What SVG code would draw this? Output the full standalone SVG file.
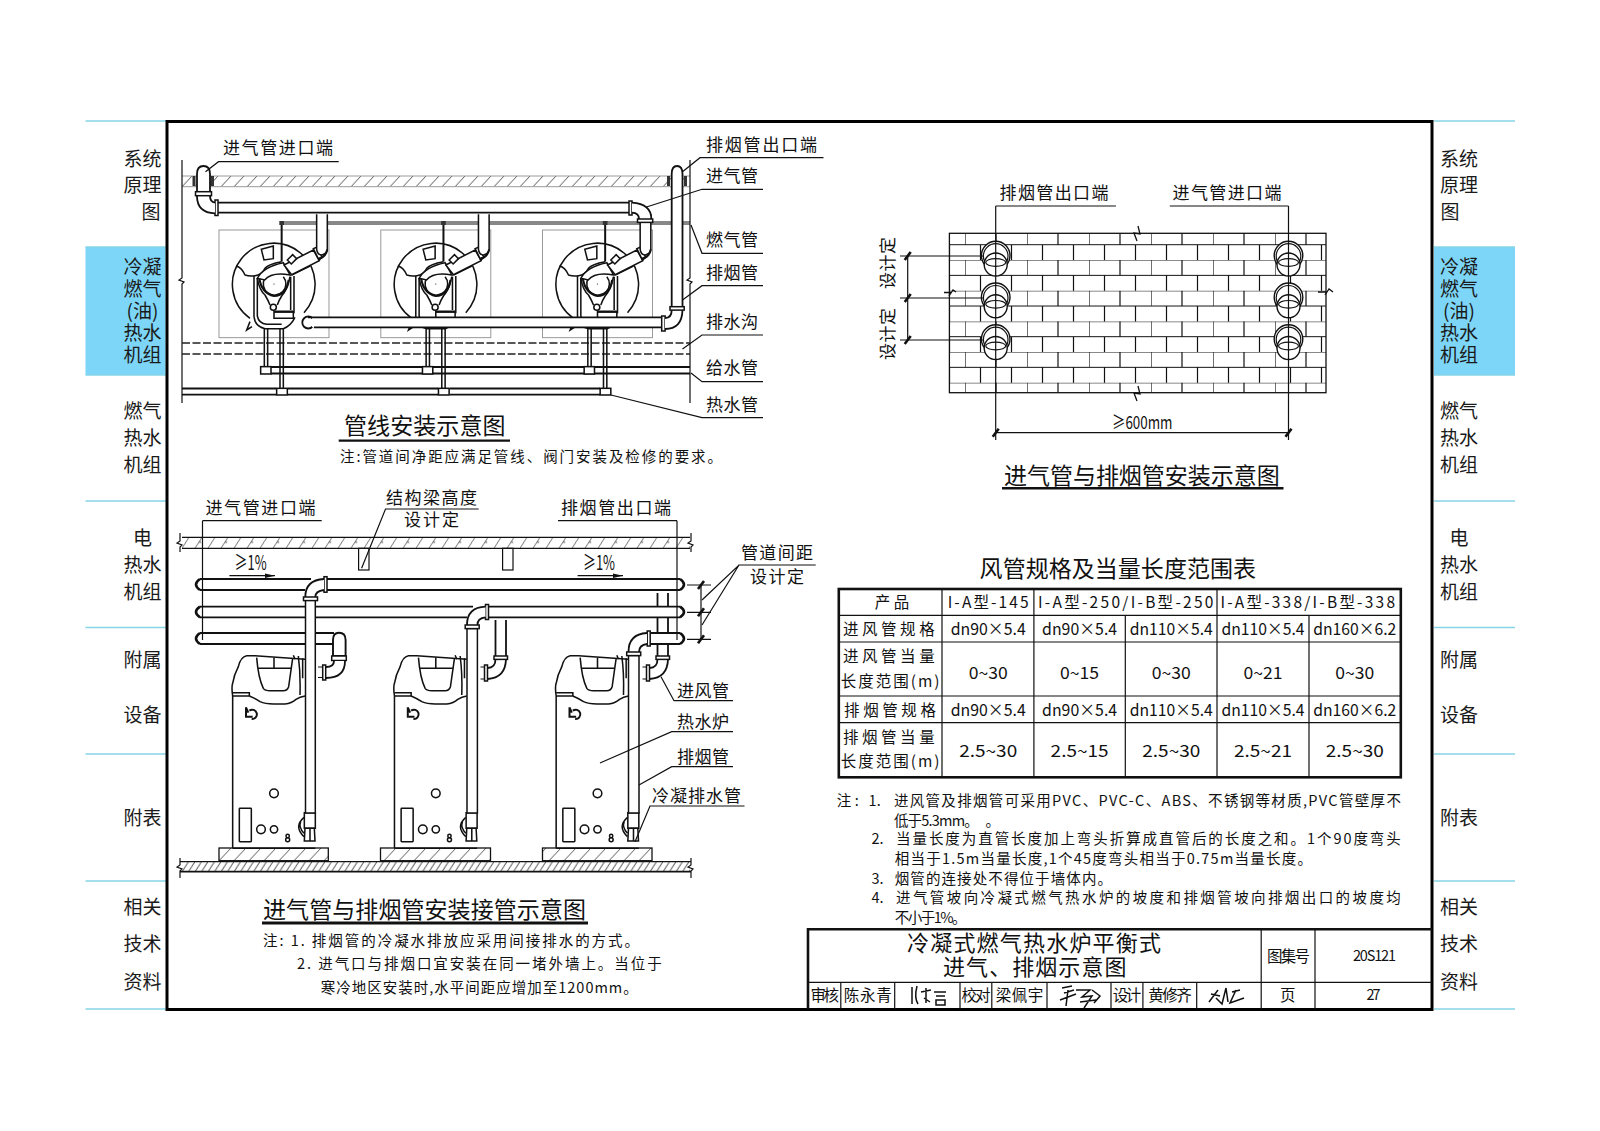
<svg xmlns="http://www.w3.org/2000/svg" width="1600" height="1131" viewBox="0 0 1600 1131">
<style>
text{font-family:"Noto Sans CJK SC","Liberation Sans",sans-serif;fill:#111;dominant-baseline:middle;baseline-shift:-1.5px}
.s{font-size:19px;fill:#1a1a1a;text-anchor:middle}
.a{font-size:17px}
.m{text-anchor:middle}
.ti{font-size:23px}
.n{font-size:14.5px}
.c{font-size:15.5px;text-anchor:middle}
.v{font-size:16.5px;text-anchor:middle}
.l{fill:none;stroke:#111;stroke-width:1.2}
.b{fill:none;stroke:#111;stroke-width:1.8}
.p{fill:#fff;stroke:#111;stroke-width:1.5}
.cy{stroke:#86d5e8;stroke-width:1.6}
.d{fill:none;stroke:#222;stroke-width:1.7;stroke-dasharray:8 2.5}
.gr{fill:none;stroke:#9a9a9a;stroke-width:1}
.z{fill:none;stroke:#111;stroke-width:4.6}
.zw{fill:#fff;stroke:#111;stroke-width:4.6}
.sg{fill:none;stroke:#111;stroke-width:1.5}
</style>
<defs>
<pattern id="hTop" patternUnits="userSpaceOnUse" x="0" y="176" width="13" height="10.7"><path d="M0,10.7L10,0" stroke="#444" stroke-width=".9"/></pattern>
<pattern id="hSlab" patternUnits="userSpaceOnUse" x="0" y="537.3" width="26" height="11"><path d="M0,11L7,0M13,11L20,0" stroke="#333" stroke-width=".7"/><path d="M17,5l1.5,-1l.5,1.5z" fill="none" stroke="#555" stroke-width=".5"/></pattern>
<pattern id="hFloor" patternUnits="userSpaceOnUse" x="0" y="861.7" width="6.5" height="10"><path d="M0,10L6.5,0" stroke="#222" stroke-width=".9"/></pattern>
<pattern id="hBase" patternUnits="userSpaceOnUse" x="219" y="848" width="15" height="12.7"><path d="M0,12.7L12,0" stroke="#333" stroke-width=".8"/></pattern>
<pattern id="brick" patternUnits="userSpaceOnUse" x="965" y="229.37" width="62" height="30.66"><path d="M0,0H62M0,15.33H62M0,0V15.33M31,0V15.33M15.5,15.33V30.66M46.5,15.33V30.66" fill="none" stroke="#111" stroke-width="1.2"/></pattern>
<g id="planUnit">
<rect x="57" y="60" width="330" height="323" fill="none" stroke="#999" stroke-width="3"/>
<path class="z" d="M150,325A124,124 0 1 1 312,308"/>
<path class="z" d="M108,168Q125,172 135,195Q150,200 165,197Q185,195 195,175Q205,162 245,155M275,195L330,168"/>
<path class="z" d="M162,198V320Q165,350 195,356H250Q272,348 285,322M282,198V310"/>
<path class="z" d="M172,205V318Q176,340 200,343H245M272,200V300"/>
<path class="z" d="M172,205Q178,240 195,255Q205,272 210,285M270,200Q262,240 245,258Q236,272 232,285"/>
<path class="z" d="M178,205Q185,250 222,258Q260,255 266,210" style="stroke-width:6.5"/>
<path class="z" d="M194,205A34,34 0 1 0 250,200"/>
<path class="zw" d="M172,205Q190,170 250,158L270,195Q215,185 194,210Z"/>
<circle cx="222" cy="222" r="1.8" fill="#111"/>
<circle cx="220" cy="292" r="9" class="z"/>
<path class="zw" d="M222,305H280V325H222Z"/>
<path d="M222,305H280" stroke="#111" stroke-width="7" fill="none"/>
<path class="zw" d="M184,118L220,108L220,146L192,150Z"/>
<path class="z" d="M245,45V155" style="stroke-width:6"/>
<rect x="238" y="33" width="14" height="12" fill="#333"/>
<path class="z" d="M150,335L140,360L156,350"/>
<path class="zw" d="M252,165L340,120L358,152L275,194Z"/>
<path class="zw" d="M340,116L350,112L367,142L357,150Z"/>
<path class="zw" d="M262,150L278,134L290,146L274,162Z"/>
<path class="zw" d="M350,13V118Q352,135 366,135Q382,130 382,118V13"/>
<path d="M382,118Q378,142 355,146" fill="none" stroke="#111" stroke-width="6"/>
<path class="z" d="M193,355V470M203,355V470M240,355V535M250,355V535"/>
<rect x="182" y="470" width="31" height="22" class="zw"/>
<rect x="230" y="535" width="32" height="20" class="zw"/>
</g>
<g id="boilerUnit">
<path class="z" d="M68,228V685M68,228Q64,200 68,190Q72,165 85,140Q92,110 110,107H135L285,118M68,228H118Q135,235 150,245Q165,252 190,252H225Q245,250 258,238Q270,230 285,228"/>
<path class="z" d="M68,218H118V228M140,113Q145,175 160,205Q165,212 180,212H220Q232,212 236,200L248,115M143,145H245M192,113V145M250,106L255,118M265,108Q272,160 270,225M278,115V175"/>
<path class="z" d="M108,262V290H128M118,272A14,14 0 1 1 125,297M115,278L108,262" style="stroke-width:6"/>
<circle cx="192" cy="520" r="13" class="z"/><circle cx="153" cy="628" r="13" class="z"/><circle cx="192" cy="628" r="11" class="z"/>
<circle cx="233" cy="648" r="5" class="z"/><circle cx="233" cy="659" r="6" class="z"/>
<rect x="88" y="565" width="36" height="100" rx="2" class="z"/>
<path class="z" d="M282,592Q250,620 282,650M272,605Q265,622 282,640"/>
<path class="zw" d="M283,578H316V625H283Z"/>
<path class="zw" d="M285,625H313L315,663H283Z"/>
<path class="z" d="M300,625V663M68,685H316"/>
</g>
<g id="hole">
<circle cx="0" cy="-1" r="14.3" fill="#fff" stroke="#111" stroke-width="1.4"/>
<circle cx="0" cy="-.5" r="12.3" fill="#fff" stroke="#111" stroke-width="1.2"/>
<circle cx="0" cy="8" r="11.5" fill="#fff" stroke="#111" stroke-width="1.4"/>
<ellipse cx="0" cy="6" rx="10" ry="3.8" fill="#fff" stroke="#111" stroke-width="1.2"/>
</g>
<path id="tick" d="M-3,4L3,-4" stroke="#111" stroke-width="2.6" fill="none"/>
<g id="stub">
<path class="b" d="M0,0V36M10.5,0V36"/>
<path class="b" d="M10.5,39Q10,58 -8,59M0,39Q0,48 -8,48"/>
<rect x="-1.5" y="36" width="13.5" height="3.4" class="p"/>
<rect x="-11" y="45" width="3" height="16" class="p"/>
<path class="l" d="M-15,47H-11M-15,59H-11"/>
</g>
</defs>
<rect width="1600" height="1131" fill="#fff"/>

<g id="side-tabs">
<rect x="85.5" y="247" width="80" height="128" fill="#7dd6f7"/>
<rect x="1434" y="247" width="81" height="128" fill="#7dd6f7"/>
<g id="tab-lines">
<path class="cy" d="M85.5,121H166M85.5,247H166M85.5,375H166M85.5,501H166M85.5,627.5H166M85.5,754H166M85.5,881H166M85.5,1009H166"/>
<path class="cy" d="M1434,121H1515M1434,247H1515M1434,375H1515M1434,501H1515M1434,627.5H1515M1434,754H1515M1434,881H1515M1434,1009H1515"/>
</g>
<g id="tabs-left">
<text class="s" x="142.5" y="159">系统</text><text class="s" x="142.5" y="185">原理</text><text class="s" x="151" y="212">图</text>
<text class="s" x="142.5" y="267">冷凝</text><text class="s" x="142.5" y="289.5">燃气</text><text class="s" x="142.5" y="311">(油)</text><text class="s" x="142.5" y="333">热水</text><text class="s" x="142.5" y="355">机组</text>
<text class="s" x="142.5" y="411">燃气</text><text class="s" x="142.5" y="438">热水</text><text class="s" x="142.5" y="465">机组</text>
<text class="s" x="142.5" y="538">电</text><text class="s" x="142.5" y="565">热水</text><text class="s" x="142.5" y="592">机组</text>
<text class="s" x="142.5" y="660">附属</text><text class="s" x="142.5" y="715">设备</text><text class="s" x="142.5" y="818">附表</text>
<text class="s" x="142.5" y="907">相关</text><text class="s" x="142.5" y="944">技术</text><text class="s" x="142.5" y="982">资料</text>
</g>
<g id="tabs-right">
<text class="s" x="1459" y="159">系统</text><text class="s" x="1459" y="185">原理</text><text class="s" x="1450" y="212">图</text>
<text class="s" x="1459" y="267">冷凝</text><text class="s" x="1459" y="289.5">燃气</text><text class="s" x="1459" y="311">(油)</text><text class="s" x="1459" y="333">热水</text><text class="s" x="1459" y="355">机组</text>
<text class="s" x="1459" y="411">燃气</text><text class="s" x="1459" y="438">热水</text><text class="s" x="1459" y="465">机组</text>
<text class="s" x="1459" y="538">电</text><text class="s" x="1459" y="565">热水</text><text class="s" x="1459" y="592">机组</text>
<text class="s" x="1459" y="660">附属</text><text class="s" x="1459" y="715">设备</text><text class="s" x="1459" y="818">附表</text>
<text class="s" x="1459" y="907">相关</text><text class="s" x="1459" y="944">技术</text><text class="s" x="1459" y="982">资料</text>
</g>
</g>

<rect id="frame" x="167" y="121.5" width="1265" height="888" fill="none" stroke="#000" stroke-width="3"/>

<g id="plan-view">
<rect x="182" y="176" width="508" height="10.7" fill="url(#hTop)"/>
<path class="gr" d="M182,176H690M182,186.7H690" stroke-width="1.2"/>
<path class="l" d="M182,160V278l-3,2l5,2l-2,2V403M690,160V278l-3,2l5,2l-2,2V403"/>
<path class="d" d="M182,343H690M182,354H690"/>
<path d="M281,222H690M281,224H690" stroke="#111" stroke-width="1" fill="none"/>
<path class="b" d="M271,367H690M271,373.5H690"/>
<path class="b" d="M182,388.5H276M288,388.5H438M450,388.5H600M182,394.7H276M288,394.7H438M450,394.7H600"/>
<g transform="translate(200,210) scale(.3333)"><use href="#planUnit"/></g>
<g transform="translate(361.8,210) scale(.3333)"><use href="#planUnit"/></g>
<g transform="translate(523.5,210) scale(.3333)"><use href="#planUnit"/></g>
<circle cx="308.3" cy="322.5" r="6" class="p" style="stroke-width:1.8"/>
<path d="M312,317.3H663V327.3H312Z" fill="#fff"/>
<path class="b" d="M308,317.3H663M314,327.3H663"/>
<rect x="661.7" y="316" width="3.4" height="15" class="p"/>
<path d="M665,318Q671.7,318 671.7,310L682.5,310Q682,329 665,329Z" fill="#fff"/>
<path class="b" d="M665,318Q671.7,318 671.7,310M682.5,310Q682,329 665,329"/>
<path d="M671.7,172H682.5V307H671.7Z" fill="#fff"/>
<path class="b" d="M671.7,307V174Q671.7,166 677,166Q682.5,166 682.5,174V307"/>
<rect x="670" y="306.7" width="14.2" height="3.4" class="p"/>
<rect x="667" y="176" width="3" height="10" fill="#333"/><rect x="684" y="176" width="3" height="10" fill="#333"/>
<path d="M216.5,203H630.5V212.7H216.5Z" fill="#fff"/>
<path class="b" d="M216.5,202.7H630.5M216.5,212.7H630.5"/>
<rect x="215" y="200" width="3" height="15.5" class="p"/>
<path d="M197,196Q197,212.7 215,213.4V202.7Q210,202 210,196Z" fill="#fff"/>
<path class="b" d="M197,196Q197,212.7 215,213.4M210,196Q210,202 215,202.7"/>
<path d="M197,172H210V192H197Z" fill="#fff"/>
<path class="b" d="M197,192V174Q197,166 203.5,166Q210,166 210,174V192"/>
<rect x="195.5" y="191.7" width="16" height="4" class="p"/>
<rect x="192.5" y="176" width="3" height="10" fill="#333"/><rect x="211" y="176" width="3" height="10" fill="#333"/>
<rect x="629" y="201" width="3" height="14" class="p"/>
<path d="M632,202.7Q651.3,204 651.3,219H639Q639,213 632,212.7Z" fill="#fff"/>
<path class="b" d="M632,202.7Q651.3,204 651.3,219M632,212.7Q639,213 639,219"/>
<rect x="637.5" y="219" width="15.2" height="3.4" class="p"/>
</g>
<g id="plan-labels">
<text class="a" x="223" y="148" textLength="110">进气管进口端</text>
<path class="l" d="M338.7,161.7H218.5L205.5,171.7"/>
<text class="a" x="706" y="145" textLength="111">排烟管出口端</text>
<path class="l" d="M823.5,157.7H700L682.5,171.7"/>
<text class="a" x="706" y="176" textLength="52">进气管</text><path class="l" d="M763,189.3H702L645.7,207.3"/>
<text class="a" x="706" y="240" textLength="52">燃气管</text><path class="l" d="M763,253.3H702L691,225"/>
<text class="a" x="706" y="272.7" textLength="52">排烟管</text><path class="l" d="M763,285.7H702L682.5,300"/>
<text class="a" x="706" y="321.7" textLength="52">排水沟</text><path class="l" d="M763,335H702L682.5,349"/>
<text class="a" x="706" y="368" textLength="52">给水管</text><path class="l" d="M763,381.7H702L691,373"/>
<text class="a" x="706" y="405" textLength="52">热水管</text><path class="l" d="M763,417.7H702L611,395"/>
<text class="ti" x="344" y="426" textLength="161.5">管线安装示意图</text>
<path d="M338.7,440.7H510" stroke="#111" stroke-width="2.2"/>
<text class="n" x="340" y="457" textLength="382">注:管道间净距应满足管线、阀门安装及检修的要求。</text>
</g>

<g id="elevation-view">
<rect x="182" y="537.3" width="508" height="11" fill="url(#hSlab)"/>
<path class="l" d="M182,537.3H690M182,548.3H690"/>
<path class="l" d="M180,533V541l-3,2l5,2l-2,2V552M691,533V541l-3,2l5,2l-2,2V552"/>
<rect x="358.6" y="548.3" width="10.4" height="21.7" class="l"/>
<rect x="502.6" y="548.3" width="10.4" height="21.7" class="l"/>
<g transform="translate(210,620) scale(.3333)"><use href="#boilerUnit"/></g>
<g transform="translate(371.8,620) scale(.3333)"><use href="#boilerUnit"/></g>
<g transform="translate(533.5,620) scale(.3333)"><use href="#boilerUnit"/></g>
<g fill="url(#hBase)" stroke="#111" stroke-width="1.3">
<rect x="219" y="848" width="109.3" height="12.7"/><rect x="380.5" y="848" width="110" height="12.7"/><rect x="542.5" y="848" width="109.5" height="12.7"/>
</g>
<rect x="182" y="861.7" width="508" height="10" fill="url(#hFloor)"/>
<path class="l" d="M180,861.7H691"/><path d="M180,871.7H691" stroke="#111" stroke-width="1.8"/>
<path class="l" d="M180,858V865l-3,2l5,2l-2,2V878M691,858V865l-3,2l5,2l-2,2V878"/>
<use href="#stub" x="495.5" y="620"/>
<use href="#stub" x="657.5" y="620"/>
<path class="b" d="M657.5,593V620M668,593V620"/>
<g id="pipe-3">
<rect x="198" y="633" width="136" height="11" fill="#fff"/>
<path class="b" d="M200,633H305M315.5,633H334M200,644H305M315.5,644H333"/>
<path d="M200,633Q192,638.5 200,644" fill="none" stroke="#111" stroke-width="2.6"/>
<path class="p" d="M333,656V640Q333,632.7 339,632.7Q345.6,632.7 345.6,640V656Z" style="stroke-width:1.9"/>
<rect x="331.7" y="656" width="14.6" height="4.5" class="p"/>
<path d="M334,661Q334,667 327,667V678Q345,678 345,661Z" fill="#fff"/>
<path class="b" d="M334,661Q334,667 326,667M345,661Q345,678 326,678"/>
<rect x="322.7" y="665" width="3" height="15" class="p"/>
<path class="l" d="M318,667H322.7M318,677.5H322.7"/>
<rect x="649" y="633" width="32" height="11" fill="#fff"/>
<path class="b" d="M649,633H680M649,644H680"/>
<path d="M680,633Q688,638.5 680,644" fill="none" stroke="#111" stroke-width="2.6"/>
<rect x="647.2" y="631" width="3" height="15" class="p"/>
<path d="M647,633Q628.5,634 628.5,652H639Q639,645 647,644Z" fill="#fff"/>
<path class="b" d="M647,633Q628.5,634 628.5,652M647,644Q639,645 639,652"/>
</g>
<g id="pipe-2">
<rect x="198" y="606.7" width="270" height="10.6" fill="#fff"/>
<rect x="488" y="606.7" width="193" height="10.6" fill="#fff"/>
<path class="b" d="M200,606.7H305M315.5,606.7H473M200,617.3H305M315.5,617.3H467M488.5,606.7H680M488.5,617.3H680"/>
<path d="M200,606.7Q192,612 200,617.3M680,606.7Q688,612 680,617.3" fill="none" stroke="#111" stroke-width="2.6"/>
<rect x="485.5" y="604.5" width="3" height="15" class="p"/>
<path d="M485.5,606.7Q467,607.5 467,625H477.4Q477.4,618 485.5,617.3Z" fill="#fff"/>
<path class="b" d="M485.5,606.7Q467,607.5 467,625M485.5,617.3Q477.4,618 477.4,625"/>
</g>
<g id="pipe-1">
<rect x="198" y="579" width="110" height="11" fill="#fff"/>
<rect x="327" y="579" width="354" height="11" fill="#fff"/>
<path class="b" d="M200,579H311M200,590H305M327,579H680M327,590H680"/>
<path d="M200,579Q192,584.5 200,590M680,579Q688,584.5 680,590" fill="none" stroke="#111" stroke-width="2.6"/>
<rect x="324" y="576.7" width="3" height="15.5" class="p"/>
<path d="M324,579Q305.3,580 305.3,597H315.3Q315.3,591 324,590Z" fill="#fff"/>
<path class="b" d="M324,579Q305.3,580 305.3,597M324,590Q315.3,591 315.3,597"/>
</g>
<g id="risers">
<path class="p" d="M305.5,600H315.3V813H305.5Z"/><rect x="303.5" y="597" width="14" height="3.6" class="p"/>
<path class="p" d="M467,628.5H477.4V813H467Z"/><rect x="465.2" y="625" width="14" height="3.6" class="p"/>
<path class="p" d="M628.5,655.5H639V813H628.5Z"/><rect x="626.7" y="652" width="14" height="3.6" class="p"/>
</g>
<path class="l" d="M202.5,520.7V640M677,520.7V640"/>
</g>
<g id="elevation-labels">
<text class="a" x="205.5" y="508" textLength="110">进气管进口端</text><path class="l" d="M202.5,520.7H321.7"/>
<text class="a" x="561" y="508" textLength="110">排烟管出口端</text><path class="l" d="M558,520.7H677"/>
<text class="a" x="386" y="498" textLength="91">结构梁高度</text><path class="l" d="M478.7,509H385.5L361.6,568.3"/>
<text class="a" x="404" y="520" textLength="55">设计定</text>
<text x="234.6" y="563.5" font-size="20" textLength="32" lengthAdjust="spacingAndGlyphs">≥1%</text>
<text x="583" y="563.5" font-size="20" textLength="32" lengthAdjust="spacingAndGlyphs">≥1%</text>
<path class="l" d="M229.4,575.7H275"/><path d="M275,575.7l-10,-2.2v4.4z" fill="#111"/>
<path class="l" d="M577.6,575.7H623"/><path d="M623,575.7l-10,-2.2v4.4z" fill="#111"/>
<text class="a" x="741" y="552.7" textLength="72">管道间距</text><path class="l" d="M815.7,565H739L702,600M739,565L702,625"/>
<text class="a" x="750" y="576.7" textLength="54">设计定</text>
<path class="l" d="M701,585V640M687,585H711M687,612.3H711M687,639.3H711"/>
<use href="#tick" x="701" y="585"/><use href="#tick" x="701" y="612.3"/><use href="#tick" x="701" y="639.3"/>
<text class="a" x="677" y="690.7" textLength="52">进风管</text><path class="l" d="M733,700.7H674L661,676.7"/>
<text class="a" x="677" y="721.7" textLength="52">热水炉</text><path class="l" d="M733,731.7H671.7L600,763"/>
<text class="a" x="677" y="756.7" textLength="52">排烟管</text><path class="l" d="M733,766.7H671.7L639,785"/>
<text class="a" x="652" y="796" textLength="89">冷凝排水管</text><path class="l" d="M744.5,806H650L635,841.7"/>
<text class="ti" x="263" y="910" textLength="323">进气管与排烟管安装接管示意图</text>
<path d="M262,923H588" stroke="#111" stroke-width="3"/>
<text class="n" x="263" y="940.7" textLength="376">注: 1. 排烟管的冷凝水排放应采用间接排水的方式。</text>
<text class="n" x="297" y="964" textLength="364.7">2. 进气口与排烟口宜安装在同一堵外墙上。当位于</text>
<text class="n" x="320.8" y="988" textLength="317">寒冷地区安装时,水平间距应增加至1200mm。</text>
</g>

<g id="wall-view">
<rect x="949.4" y="233.3" width="376.6" height="159.4" fill="url(#brick)" stroke="#111" stroke-width="1.3"/>
<path class="l" d="M1138,226L1140,234L1134,233L1137,241M1138,386L1140,394L1134,393L1137,401M944,292.5H951L949,296L953,290L956,292M1318,292H1327L1325,295L1329,289L1333,292" style="stroke-width:1.3"/>
<use href="#hole" x="995.7" y="256.5"/><use href="#hole" x="995.7" y="298.3"/><use href="#hole" x="995.7" y="340"/>
<use href="#hole" x="1288.5" y="256.5"/><use href="#hole" x="1288.5" y="298.3"/><use href="#hole" x="1288.5" y="340"/>
<path class="l" d="M995.7,206V440M1288.5,206V440M995.7,206H1115.9M1169.8,206H1288.5"/>
<path class="l" d="M907.7,256V340M900,256H983M900,298H983M900,340H983M995.7,432.7H1288.5"/>
<use href="#tick" x="907.7" y="256"/><use href="#tick" x="907.7" y="298"/><use href="#tick" x="907.7" y="340"/>
<use href="#tick" x="995.7" y="432.7"/><use href="#tick" x="1288.5" y="432.7"/>
<text class="a" x="999.5" y="192.7" textLength="109">排烟管出口端</text>
<text class="a" x="1172.5" y="192.7" textLength="109">进气管进口端</text>
<text class="a m" x="888" y="263" transform="rotate(-90 888 263)" textLength="52">设计定</text>
<text class="a m" x="888" y="334" transform="rotate(-90 888 334)" textLength="52">设计定</text>
<text x="1112" y="423" font-size="18" textLength="60.5" lengthAdjust="spacingAndGlyphs">≥600mm</text>
<text class="ti" x="1004" y="476" textLength="275.7">进气管与排烟管安装示意图</text>
<path d="M1002,488.3H1283.5" stroke="#111" stroke-width="2.5"/>
</g>

<g id="spec-table">
<text class="ti" x="979.6" y="569.3" textLength="276.4">风管规格及当量长度范围表</text>
<rect x="838.8" y="589" width="562" height="188.3" fill="none" stroke="#111" stroke-width="2.6"/>
<path class="l" d="M838.8,615.3H1400.8M838.8,642H1400.8M838.8,696H1400.8M838.8,722.7H1400.8M942,589V777.3M1033.9,589V777.3M1217,589V777.3M1125.3,615.3V777.3M1309,615.3V777.3"/>
<text class="c" x="892" y="602.7" textLength="34.7">产品</text>
<text class="c" x="988.2" y="602.7" textLength="81">I-A型-145</text>
<text class="c" x="1125.7" y="602.7" textLength="175.5">I-A型-250/I-B型-250</text>
<text class="c" x="1307.7" y="602.7" textLength="174.6">I-A型-338/I-B型-338</text>
<text class="c" x="888.8" y="629.3" textLength="91.8">进风管规格</text>
<text class="v" x="988.2" y="629.3" textLength="75" lengthAdjust="spacingAndGlyphs">dn90×5.4</text><text class="v" x="1079.6" y="629.3" textLength="75" lengthAdjust="spacingAndGlyphs">dn90×5.4</text><text class="v" x="1171.3" y="629.3" textLength="83" lengthAdjust="spacingAndGlyphs">dn110×5.4</text><text class="v" x="1263" y="629.3" textLength="83" lengthAdjust="spacingAndGlyphs">dn110×5.4</text><text class="v" x="1354.8" y="629.3" textLength="83" lengthAdjust="spacingAndGlyphs">dn160×6.2</text>
<text class="c" x="888.8" y="656" textLength="91.8">进风管当量</text>
<text class="c" x="890.2" y="681.7" textLength="98.8">长度范围(m)</text>
<text class="v" x="988.2" y="673" textLength="39" lengthAdjust="spacingAndGlyphs">0~30</text><text class="v" x="1079.6" y="673" textLength="39" lengthAdjust="spacingAndGlyphs">0~15</text><text class="v" x="1171.3" y="673" textLength="39" lengthAdjust="spacingAndGlyphs">0~30</text><text class="v" x="1263" y="673" textLength="39" lengthAdjust="spacingAndGlyphs">0~21</text><text class="v" x="1354.8" y="673" textLength="39" lengthAdjust="spacingAndGlyphs">0~30</text>
<text class="c" x="890" y="710" textLength="91.8">排烟管规格</text>
<text class="v" x="988.2" y="710" textLength="75" lengthAdjust="spacingAndGlyphs">dn90×5.4</text><text class="v" x="1079.6" y="710" textLength="75" lengthAdjust="spacingAndGlyphs">dn90×5.4</text><text class="v" x="1171.3" y="710" textLength="83" lengthAdjust="spacingAndGlyphs">dn110×5.4</text><text class="v" x="1263" y="710" textLength="83" lengthAdjust="spacingAndGlyphs">dn110×5.4</text><text class="v" x="1354.8" y="710" textLength="83" lengthAdjust="spacingAndGlyphs">dn160×6.2</text>
<text class="c" x="888.8" y="737.3" textLength="91.8">排烟管当量</text>
<text class="c" x="890.2" y="761.7" textLength="98.8">长度范围(m)</text>
<text class="v" x="988.2" y="750.7" textLength="58" lengthAdjust="spacingAndGlyphs">2.5~30</text><text class="v" x="1079.6" y="750.7" textLength="58" lengthAdjust="spacingAndGlyphs">2.5~15</text><text class="v" x="1171.3" y="750.7" textLength="58" lengthAdjust="spacingAndGlyphs">2.5~30</text><text class="v" x="1263" y="750.7" textLength="58" lengthAdjust="spacingAndGlyphs">2.5~21</text><text class="v" x="1354.8" y="750.7" textLength="58" lengthAdjust="spacingAndGlyphs">2.5~30</text>
</g>

<g id="notes">
<text class="n" x="836.7" y="800.7" textLength="22">注:</text>
<text class="n" x="868.6" y="800.7">1.</text>
<text class="n" x="893.9" y="800.7" textLength="507">进风管及排烟管可采用PVC、PVC-C、ABS、不锈钢等材质,PVC管壁厚不</text>
<text class="n" x="893.9" y="820.7" textLength="106" xml:space="preserve">低于5.3mm。   。</text>
<text class="n" x="871.4" y="838.3">2.</text>
<text class="n" x="896" y="838.3" textLength="504.8">当量长度为直管长度加上弯头折算成直管后的长度之和。1个90度弯头</text>
<text class="n" x="894.7" y="858.3" textLength="417.3">相当于1.5m当量长度,1个45度弯头相当于0.75m当量长度。</text>
<text class="n" x="871.4" y="878.3">3.</text>
<text class="n" x="894.7" y="878.3" textLength="217.3">烟管的连接处不得位于墙体内。</text>
<text class="n" x="871.4" y="897.3">4.</text>
<text class="n" x="896" y="897.3" textLength="504.8">进气管坡向冷凝式燃气热水炉的坡度和排烟管坡向排烟出口的坡度均</text>
<text class="n" x="894.7" y="917.3" textLength="71.8">不小于1%。</text>
</g>

<g id="title-block">
<path d="M808,1009V929.3H1432" fill="none" stroke="#111" stroke-width="2.6"/>
<path class="l" d="M1261.2,929.3V1009M1315,929.3V1009M808,982.3H1432M840.8,982.3V1009M894.7,982.3V1009M960,982.3V1009M991.8,982.3V1009M1047,982.3V1009M1111,982.3V1009M1142.9,982.3V1009M1196.7,982.3V1009"/>
<text x="907" y="944" font-size="22" textLength="254">冷凝式燃气热水炉平衡式</text>
<text x="943" y="968" font-size="22" textLength="183.5">进气、排烟示意图</text>
<text class="c" x="1288.5" y="956" textLength="43">图集号</text>
<text class="c" x="1374.5" y="956" textLength="43" style="font-size:14.5px">20S121</text>
<text class="c" x="824.7" y="995" textLength="28.5">审核</text>
<text class="c" x="867.7" y="995" textLength="48">陈永青</text>
<text class="c" x="975.9" y="995" textLength="29">校对</text>
<text class="c" x="1019.5" y="995" textLength="47.7">梁佩宇</text>
<text class="c" x="1127" y="995" textLength="28.5">设计</text>
<text class="c" x="1170" y="995" textLength="43.5">黄修齐</text>
<text class="c" x="1287.8" y="995">页</text>
<text class="c" x="1373.5" y="995" textLength="14" style="font-size:14.5px">27</text>
<path class="sg" d="M912,987V1004M917,986Q914,998 918,1004M921,992L931,990M926,988V1003M924,998L930,1002M934,992H946M936,996H945M936,1000H945V1005H936Z"/>
<path class="sg" d="M1062,988L1072,986M1064,993L1074,990M1060,1000L1076,994M1068,990L1066,1006M1076,990H1090L1082,997L1092,996L1084,1008M1092,990L1100,996L1094,1003M1080,1002L1096,1000"/>
<path class="sg" d="M1209,1002L1218,990M1211,994L1220,996M1216,998L1222,1004L1226,988L1228,1002M1232,992L1240,990M1236,990L1230,1003L1244,998"/>
</g>
</svg>
